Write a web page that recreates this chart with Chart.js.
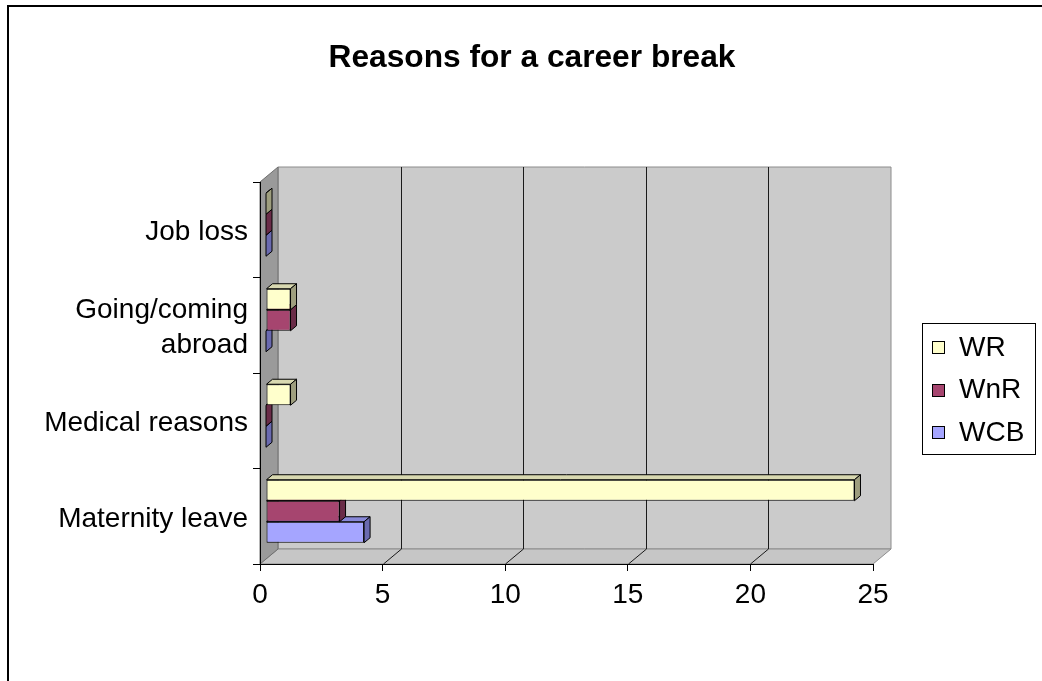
<!DOCTYPE html>
<html>
<head>
<meta charset="utf-8">
<script src="https://cdn.jsdelivr.net/npm/chart.js@4.4.0/dist/chart.umd.min.js"></script>
<style>
  html, body { margin: 0; padding: 0; background: #ffffff; overflow: hidden; }
  canvas { display: block; }
</style>
</head>
<body>
<canvas id="chart" width="1042" height="681"></canvas>
<script>
// ---- data ----
const chartTitle = 'Reasons for a career break';
const categories = ['Job loss', ['Going/coming', 'abroad'], 'Medical reasons', 'Maternity leave'];
const seriesNames = ['WR', 'WnR', 'WCB'];
const wrValues  = [0, 1, 1, 24];
const wnrValues = [0, 1, 0, 3];
const wcbValues = [0, 0, 0, 4];
const xTickValues = [0, 5, 10, 15, 20, 25];

// ---- styling ----
const FONT = '"Liberation Sans", Arial, sans-serif';
const LABEL_SIZE = 28;
const palette = [
  { front: '#FFFFCC', top: '#D8D8B0', side: '#9E9E7E' },
  { front: '#A6456F', top: '#84385B', side: '#6A2C48' },
  { front: '#A5A5FF', top: '#8888D8', side: '#6A6AB0' }
];
const WALL = { x: 18, y: -15 };   // depth of the plot box
const BAR = { x: 6, y: -5 };      // depth of each bar (and its inset)

function poly(ctx, pts, fill, stroke) {
  ctx.beginPath();
  ctx.moveTo(pts[0][0], pts[0][1]);
  for (let i = 1; i < pts.length; i++) ctx.lineTo(pts[i][0], pts[i][1]);
  ctx.closePath();
  if (fill) { ctx.fillStyle = fill; ctx.fill(); }
  if (stroke) { ctx.strokeStyle = stroke; ctx.lineWidth = 1; ctx.stroke(); }
}

// Walls, floor and back gridlines of the 3-D box
const boxPlugin = {
  id: 'box3d',
  beforeDraw(chart) {
    const ctx = chart.ctx;
    const { left, right, top, bottom } = chart.chartArea;
    const xs = chart.scales.x;
    const dx = WALL.x, dy = WALL.y;
    ctx.save();
    // outer frame
    ctx.strokeStyle = '#000';
    ctx.lineWidth = 2;
    ctx.strokeRect(8, 6, 1200, 1000);
    // back wall
    poly(ctx, [[left + dx, top + dy], [right + dx, top + dy], [right + dx, bottom + dy], [left + dx, bottom + dy]], '#CBCBCB', '#8C8C8C');
    // floor
    poly(ctx, [[left, bottom], [right, bottom], [right + dx, bottom + dy], [left + dx, bottom + dy]], '#C6C6C6', '#8C8C8C');
    // side wall
    poly(ctx, [[left, top], [left + dx, top + dy], [left + dx, bottom + dy], [left, bottom]], '#9A9A9A', '#6E6E6E');
    // gridlines on the back wall and floor
    ctx.strokeStyle = '#1A1A1A';
    ctx.lineWidth = 1;
    xTickValues.forEach((v, i) => {
      if (i === 0 || i === xTickValues.length - 1) return;
      const px = Math.round(xs.getPixelForValue(v)) + 0.5;
      ctx.beginPath();
      ctx.moveTo(px + dx, top + dy);
      ctx.lineTo(px + dx, bottom + dy);
      ctx.lineTo(px, bottom);
      ctx.stroke();
    });
    ctx.restore();
  }
};

// Top and side faces of every bar, drawn with the bar itself
const barDepthPlugin = {
  id: 'barDepth',
  beforeDatasetDraw(chart) {
    chart.ctx.save();
    chart.ctx.translate(BAR.x, BAR.y);
  },
  afterDatasetDraw(chart, args) {
    const ctx = chart.ctx;
    const col = palette[args.index];
    args.meta.data.forEach(bar => {
      const p = bar.getProps(['x', 'y', 'base', 'height'], true);
      const l = Math.min(p.x, p.base), r = Math.max(p.x, p.base);
      const t = p.y - p.height / 2, b = p.y + p.height / 2;
      poly(ctx, [[l, t], [l + BAR.x, t + BAR.y], [r + BAR.x, t + BAR.y], [r, t]], col.top, '#000');
      poly(ctx, [[r, t], [r + BAR.x, t + BAR.y], [r + BAR.x, b + BAR.y], [r, b]], col.side, '#000');
    });
    ctx.restore();
  }
};

// Title and boxed legend
const textPlugin = {
  id: 'titleLegend',
  afterDraw(chart) {
    const ctx = chart.ctx;
    ctx.save();
    ctx.fillStyle = '#000';
    ctx.font = 'bold 31.7px ' + FONT;
    ctx.textAlign = 'center';
    ctx.textBaseline = 'middle';
    ctx.fillText(chartTitle, 532, 58);

    // legend
    ctx.strokeStyle = '#000';
    ctx.lineWidth = 1;
    ctx.strokeRect(922.5, 323.5, 113, 131);
    ctx.font = LABEL_SIZE + 'px ' + FONT;
    ctx.textAlign = 'left';
    chart.data.datasets.forEach((ds, i) => {
      const cy = 347 + i * 42.5;
      const sy = Math.round(cy - 6);
      ctx.fillStyle = palette[i].front;
      ctx.fillRect(932, sy, 13, 13);
      ctx.strokeStyle = '#000';
      ctx.strokeRect(932.5, sy + 0.5, 12, 12);
      ctx.fillStyle = '#000';
      ctx.fillText(ds.label, 959, cy + 1);
    });
    ctx.restore();
  }
};

const valueSets = [wrValues, wnrValues, wcbValues];

new Chart(document.getElementById('chart'), {
  type: 'bar',
  data: {
    labels: categories,
    datasets: seriesNames.map((name, i) => ({
      label: name,
      data: valueSets[i],
      backgroundColor: palette[i].front,
      borderColor: '#000',
      borderWidth: 1,
      borderSkipped: false,
      clip: false,
      categoryPercentage: 0.66,
      barPercentage: 1.0
    }))
  },
  options: {
    indexAxis: 'y',
    responsive: false,
    animation: false,
    devicePixelRatio: 1,
    layout: { padding: { left: 0, right: 169, top: 182, bottom: 0 } },
    plugins: {
      legend: { display: false },
      title: { display: false },
      tooltip: { enabled: false }
    },
    scales: {
      x: {
        type: 'linear',
        min: 0,
        max: 25,
        afterBuildTicks(scale) { scale.ticks = xTickValues.map(v => ({ value: v })); },
        afterFit(scale) { scale.height = 117; },
        grid: { drawOnChartArea: false, drawTicks: true, tickLength: 7, color: '#000' },
        border: { display: true, color: '#000', width: 1 },
        ticks: { color: '#000', padding: 7, font: { family: FONT, size: LABEL_SIZE }, maxRotation: 0 }
      },
      y: {
        afterFit(scale) { scale.width = 260; },
        grid: { drawOnChartArea: false, drawTicks: true, tickLength: 7, color: '#000', offset: true },
        border: { display: true, color: '#000', width: 1 },
        ticks: { color: '#000', padding: 5, labelOffset: 3, font: { family: FONT, size: LABEL_SIZE, lineHeight: 1.25 } }
      }
    }
  },
  plugins: [boxPlugin, barDepthPlugin, textPlugin]
});
</script>
</body>
</html>
